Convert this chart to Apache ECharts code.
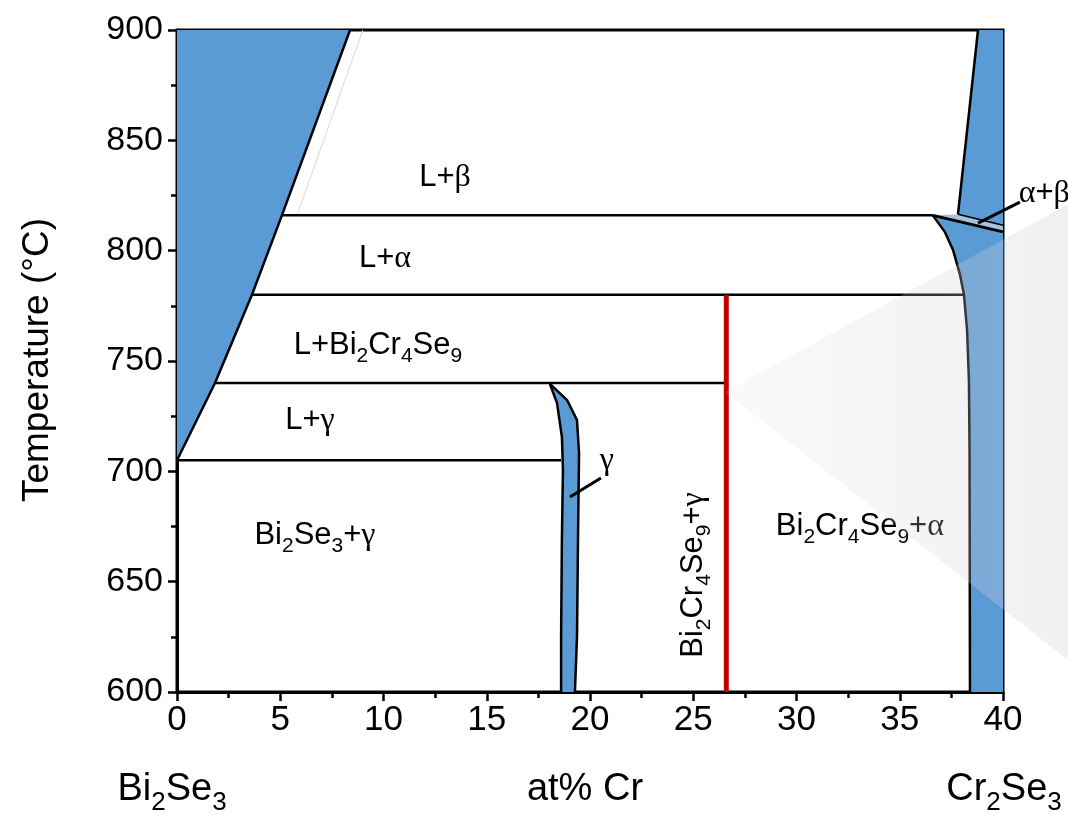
<!DOCTYPE html>
<html>
<head>
<meta charset="utf-8">
<script src="https://cdn.jsdelivr.net/npm/echarts@6/dist/echarts.min.js"></script>
<style>html,body{margin:0;padding:0;background:#fff}#c{width:1068px;height:820px}</style>
</head>
<body>
<div id="c"></div>
<script>
// ---- data (at% Cr, °C) ----
const xTicks = [0, 5, 10, 15, 20, 25, 30, 35, 40];
const yTicks = [600, 650, 700, 750, 800, 850, 900];
const liquidus = [[0, 705], [1.84, 740], [3.63, 780], [5.08, 816], [8.38, 900]];
const faintLine = [[5.81, 816], [9.0, 900]];
const iso705 = [[0, 705], [18.6, 705]];
const iso740 = [[1.84, 740], [26.6, 740]];
const iso780 = [[3.63, 780], [38.1, 780]];
const iso816 = [[5.08, 816], [36.6, 816]];
const gammaLeft = [[18.06, 739.6], [18.40, 731], [18.64, 715.5], [18.69, 700.6], [18.64, 670], [18.60, 625], [18.60, 600]];
const gammaRight = [[18.06, 739.6], [18.89, 732.3], [19.37, 723.2], [19.47, 708.3], [19.42, 670], [19.37, 625], [19.27, 600]];
const betaBoundary = [[38.79, 900], [37.82, 816.5]];
const alphaBoundary = [[36.6, 816], [37.19, 808.4], [37.58, 800.3], [37.92, 789], [38.11, 780], [38.26, 764], [38.35, 741], [38.38, 710], [38.40, 600]];
const abLower = [[36.6, 816], [40, 808.5]];
const abUpper = [[37.82, 816.5], [40, 811.5]];
const compoundLine = [[26.6, 600], [26.6, 780]];
const gammaPointer = [[19.03, 688.4], [20.53, 697]];
const abPointer = [[38.79, 812.5], [40.82, 822]];
const labelTexts = [
  '{n|L+}{g|β}',
  '{n|L+}{g|α}',
  '{n|L+Bi}{s|2}{n|Cr}{s|4}{n|Se}{s|9}',
  '{n|L+}{g|γ}',
  '{n|Bi}{s|2}{n|Se}{s|3}{n|+}{g|γ}',
  '{n|Bi}{s|2}{n|Cr}{s|4}{n|Se}{s|9}{n|+}{g|γ}',
  '{n|Bi}{s|2}{n|Cr}{s|4}{n|Se}{s|9}{n|+}{g|α}',
  '{g|γ}',
  '{g|α}{n|+}{g|β}'
];
const labelAt = [[12.98, 833], [10.07, 796.6], [9.73, 757], [6.44, 723], [6.68, 671], [25.0, 653], [33.07, 675], [20.82, 705], [42.0, 826]];
const labelRot = [0, 0, 0, 0, 0, 90, 0, 0, 0];
const overlayPts = [[26.54, 736], [43.15, 821], [43.15, 614.5]];

// ---- regions built from boundaries ----
const bi2se3Region = liquidus.concat([[0, 900]]);
const gammaRegion = gammaLeft.concat(gammaRight.slice().reverse());
const betaRegion = [betaBoundary[0], [40, 900], abUpper[1], betaBoundary[1]];
const abRegion = [abLower[0], abUpper[0], abUpper[1], abLower[1]];
const alphaRegion = alphaBoundary.concat([[40, 600], abLower[1]]);

const BLUE = '#5b9bd5';
const SANS = '"Liberation Sans", Arial, sans-serif';
const NARROW = '"Liberation Sans Narrow", "Arial Narrow", "Liberation Sans", sans-serif';
const SERIF = '"Liberation Serif", "Times New Roman", serif';

function poly(points, fill, z) {
  return {
    type: 'custom', coordinateSystem: 'cartesian2d', z: z, silent: true, clip: false,
    data: [points[0]],
    renderItem: function (params, api) {
      return { type: 'polygon', shape: { points: points.map(p => api.coord(p)) }, style: { fill: fill, stroke: null } };
    }
  };
}
function line(points, color, width, z) {
  return {
    type: 'custom', coordinateSystem: 'cartesian2d', z: z || 3, silent: true, clip: false,
    data: [points[0]],
    renderItem: function (params, api) {
      return { type: 'polyline', shape: { points: points.map(p => api.coord(p)) },
        style: { stroke: color || '#000', lineWidth: width || 2.5, fill: null, lineJoin: 'round' } };
    }
  };
}
const richIn = {
  n: { fontSize: 31, fontFamily: SANS, fill: '#000', lineHeight: 36 },
  s: { fontSize: 21, fontFamily: SANS, fill: '#000', lineHeight: 21, padding: [22, 0, 0, 0] },
  g: { fontSize: 32, fontFamily: SERIF, fill: '#000', lineHeight: 36 }
};
const richOut = {
  n: { fontSize: 38, fontFamily: SANS, fill: '#000', lineHeight: 44 },
  s: { fontSize: 26, fontFamily: SANS, fill: '#000', lineHeight: 26, padding: [26, 0, 0, 0] }
};

const chart = echarts.init(document.getElementById('c'), null, { renderer: 'canvas' });
chart.setOption({
  animation: false,
  backgroundColor: '#fff',
  grid: { left: 177, right: 65, top: 30, bottom: 128, show: true, borderColor: '#000', borderWidth: 3, backgroundColor: 'transparent' },
  xAxis: {
    type: 'value', min: xTicks[0], max: xTicks[xTicks.length - 1], interval: 5,
    axisLine: { lineStyle: { color: '#000', width: 3 } },
    axisTick: { show: true, inside: false, length: 9, lineStyle: { color: '#000', width: 2.5 } },
    minorTick: { show: true, splitNumber: 2, length: 6, lineStyle: { color: '#000', width: 2.5 } },
    splitLine: { show: false },
    axisLabel: { fontSize: 35, color: '#000', fontFamily: NARROW, margin: 11 }
  },
  yAxis: {
    type: 'value', min: yTicks[0], max: yTicks[yTicks.length - 1], interval: 50,
    axisLine: { lineStyle: { color: '#000', width: 3 } },
    axisTick: { show: true, inside: false, length: 9, lineStyle: { color: '#000', width: 2.5 } },
    minorTick: { show: true, splitNumber: 2, length: 6, lineStyle: { color: '#000', width: 2.5 } },
    splitLine: { show: false },
    axisLabel: { fontSize: 34, color: '#000', fontFamily: SANS, margin: 14 }
  },
  graphic: [
    { type: 'text', x: 38, y: 360, rotation: Math.PI / 2, style: { text: 'Temperature (°C)', font: '37px ' + SANS, fill: '#000', textAlign: 'center', textVerticalAlign: 'middle' } },
    { type: 'text', x: 172, y: 790, style: { text: '{n|Bi}{s|2}{n|Se}{s|3}', rich: richOut, textAlign: 'center', textVerticalAlign: 'middle' } },
    { type: 'text', x: 585, y: 790, style: { text: '{n|at% Cr}', rich: richOut, textAlign: 'center', textVerticalAlign: 'middle' } },
    { type: 'text', x: 1004, y: 790, style: { text: '{n|Cr}{s|2}{n|Se}{s|3}', rich: richOut, textAlign: 'center', textVerticalAlign: 'middle' } }
  ],
  series: [
    poly(bi2se3Region, BLUE, 1),
    poly(gammaRegion, BLUE, 1),
    poly(betaRegion, BLUE, 1),
    poly(alphaRegion, BLUE, 1),
    poly(abRegion, '#a8c2dc', 1),
    line(liquidus), line(faintLine, '#d8d8d8', 1),
    line(iso705), line(iso740), line(iso780), line(iso816),
    line(gammaLeft), line(gammaRight),
    line(betaBoundary), line(alphaBoundary),
    line(abLower, '#000', 3), line(abUpper, '#000', 1.5),
    line(gammaPointer, '#000', 3), line(abPointer, '#000', 3),
    line(compoundLine, '#c00000', 5, 4),
    {
      type: 'custom', coordinateSystem: 'cartesian2d', z: 6, silent: true, clip: false,
      data: labelAt,
      renderItem: function (params, api) {
        const p = api.coord([api.value(0), api.value(1)]);
        return {
          type: 'text', x: p[0], y: p[1], rotation: labelRot[params.dataIndex] * Math.PI / 180,
          style: { text: labelTexts[params.dataIndex], rich: richIn, textAlign: 'center', textVerticalAlign: 'middle' }
        };
      }
    },
    {
      type: 'custom', coordinateSystem: 'cartesian2d', z: 10, silent: true, clip: false,
      data: [overlayPts[0]],
      renderItem: function (params, api) {
        return {
          type: 'polygon', shape: { points: overlayPts.map(p => api.coord(p)) },
          style: { fill: { type: 'linear', x: 0, y: 0, x2: 1, y2: 0, colorStops: [
            { offset: 0, color: 'rgba(210,210,218,0.12)' }, { offset: 1, color: 'rgba(210,210,218,0.33)' }] }, stroke: null }
        };
      }
    }
  ]
});
</script>
</body>
</html>
